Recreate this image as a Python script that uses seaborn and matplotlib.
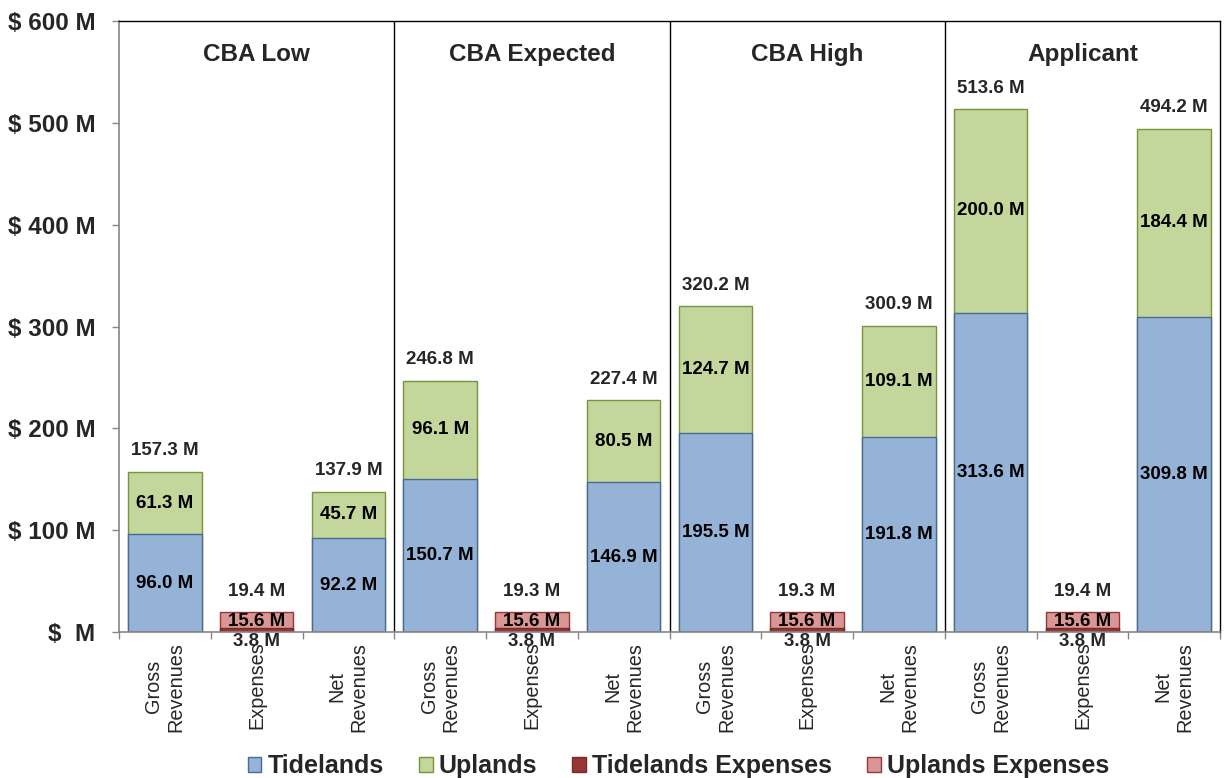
import matplotlib
matplotlib.use("Agg")
import matplotlib.pyplot as plt
import seaborn as sns
import numpy as np
import pandas as pd
from matplotlib.patches import Patch

# ---- data ----
groups = ["CBA Low", "CBA Expected", "CBA High", "Applicant"]
kinds = ["Gross\nRevenues", "Expenses", "Net\nRevenues"]
tidelands = [96.0, 0, 92.2, 150.7, 0, 146.9, 195.5, 0, 191.8, 313.6, 0, 309.8]
uplands = [61.3, 0, 45.7, 96.1, 0, 80.5, 124.7, 0, 109.1, 200.0, 0, 184.4]
tide_exp = [0, 3.8, 0, 0, 3.8, 0, 0, 3.8, 0, 0, 3.8, 0]
upl_exp = [0, 15.6, 0, 0, 15.6, 0, 0, 15.6, 0, 0, 15.6, 0]
totals = [157.3, 19.4, 137.9, 246.8, 19.3, 227.4, 320.2, 19.3, 300.9, 513.6, 19.4, 494.2]
ytick_vals = [0, 100, 200, 300, 400, 500, 600]
ytick_labels = ["$  M", "$ 100 M", "$ 200 M", "$ 300 M", "$ 400 M", "$ 500 M", "$ 600 M"]

sns.set_theme(style="white")
plt.rcParams["font.family"] = ["Liberation Sans", "DejaVu Sans"]

C_T, E_T = "#95B3D7", "#4A6A94"
C_U, E_U = "#C3D69B", "#77933C"
C_TE, E_TE = "#953735", "#7A2A28"
C_UE, E_UE = "#DA9694", "#953735"

n = len(totals)
df = pd.DataFrame({
    "pos": np.arange(n),
    "tide": tidelands,
    "upl": uplands,
    "te": tide_exp,
    "ue": upl_exp,
    "tot": totals,
})
df["rev_total"] = df["tide"] + df["upl"]
df["exp_total"] = np.where(df["te"] + df["ue"] > 0, df["tot"], 0)

fig = plt.figure(figsize=(12.25, 7.78), dpi=100)
ax = fig.add_axes([119 / 1225, 1 - 632 / 778, (1220 - 119) / 1225, (632 - 21) / 778])

common = dict(x="pos", order=list(range(n)), width=0.8, linewidth=1.0, ax=ax, errorbar=None)
sns.barplot(data=df, y="rev_total", color=C_U, edgecolor=E_U, saturation=1, **common)
sns.barplot(data=df, y="tide", color=C_T, edgecolor=E_T, saturation=1, **common)
sns.barplot(data=df, y="exp_total", color=C_UE, edgecolor=E_UE, saturation=1, **common)
sns.barplot(data=df, y="te", color=C_TE, edgecolor=E_TE, saturation=1, **common)

FS = 13.5
lab_kw = dict(ha="center", va="center", fontsize=FS, fontweight="bold", color="black")
for i in range(n):
    if tidelands[i] > 0:
        ax.text(i, tidelands[i] / 2, f"{tidelands[i]:.1f} M", **lab_kw)
        ax.text(i, tidelands[i] + uplands[i] / 2, f"{uplands[i]:.1f} M", **lab_kw)
    else:
        ax.text(i, tide_exp[i] + upl_exp[i] / 2 - 1.5, f"{upl_exp[i]:.1f} M", **lab_kw)
        ax.annotate(f"{tide_exp[i]:.1f} M", (i, 0), xytext=(0, -1), textcoords="offset points",
                    ha="center", va="top", fontsize=FS, fontweight="bold")
    ax.annotate(f"{totals[i]:.1f} M", (i, totals[i]), xytext=(0, 15), textcoords="offset points",
                ha="center", va="center", fontsize=FS, fontweight="bold")

for g, name in enumerate(groups):
    ax.text(g * 3 + 1, 567, name, ha="center", va="center", fontsize=17.5, fontweight="bold")
for b in [2.5, 5.5, 8.5]:
    ax.axvline(b, color="black", lw=1.0)

ax.set_xlim(-0.5, n - 0.5)
ax.set_ylim(0, 600)
ax.set_yticks(ytick_vals)
ax.set_yticklabels(ytick_labels, fontsize=17.5, fontweight="bold")
ax.set_xticks(range(n))
ax.set_xticklabels([kinds[i % 3] for i in range(n)], rotation=90, fontsize=14.3,
                   va="top", ha="center", multialignment="center")
ax.set_xticks(np.arange(-0.5, n, 1), minor=True)
ax.tick_params(axis="x", which="major", length=0, pad=7)
ax.tick_params(axis="x", which="minor", length=5, color="#868686", width=1, direction="out", bottom=True)
ax.tick_params(axis="y", length=5, color="#868686", width=1, direction="out", left=True, pad=12)
ax.set_xlabel("")
ax.set_ylabel("")
for s in ["left", "bottom"]:
    ax.spines[s].set_color("#868686")
    ax.spines[s].set_linewidth(1.2)
for s in ["top", "right"]:
    ax.spines[s].set_color("black")
    ax.spines[s].set_linewidth(1.0)

handles = [Patch(facecolor=C_T, edgecolor=E_T, label="Tidelands"),
           Patch(facecolor=C_U, edgecolor=E_U, label="Uplands"),
           Patch(facecolor=C_TE, edgecolor=E_TE, label="Tidelands Expenses"),
           Patch(facecolor=C_UE, edgecolor=E_UE, label="Uplands Expenses")]
fig.legend(handles=handles, loc="center", bbox_to_anchor=(0.554, 0.015), ncol=4, frameon=False,
           prop={"weight": "bold", "size": 18}, handlelength=0.55, handleheight=0.55,
           handletextpad=0.25, columnspacing=1.4, borderpad=0)

fig.savefig("out.png", dpi=100)
